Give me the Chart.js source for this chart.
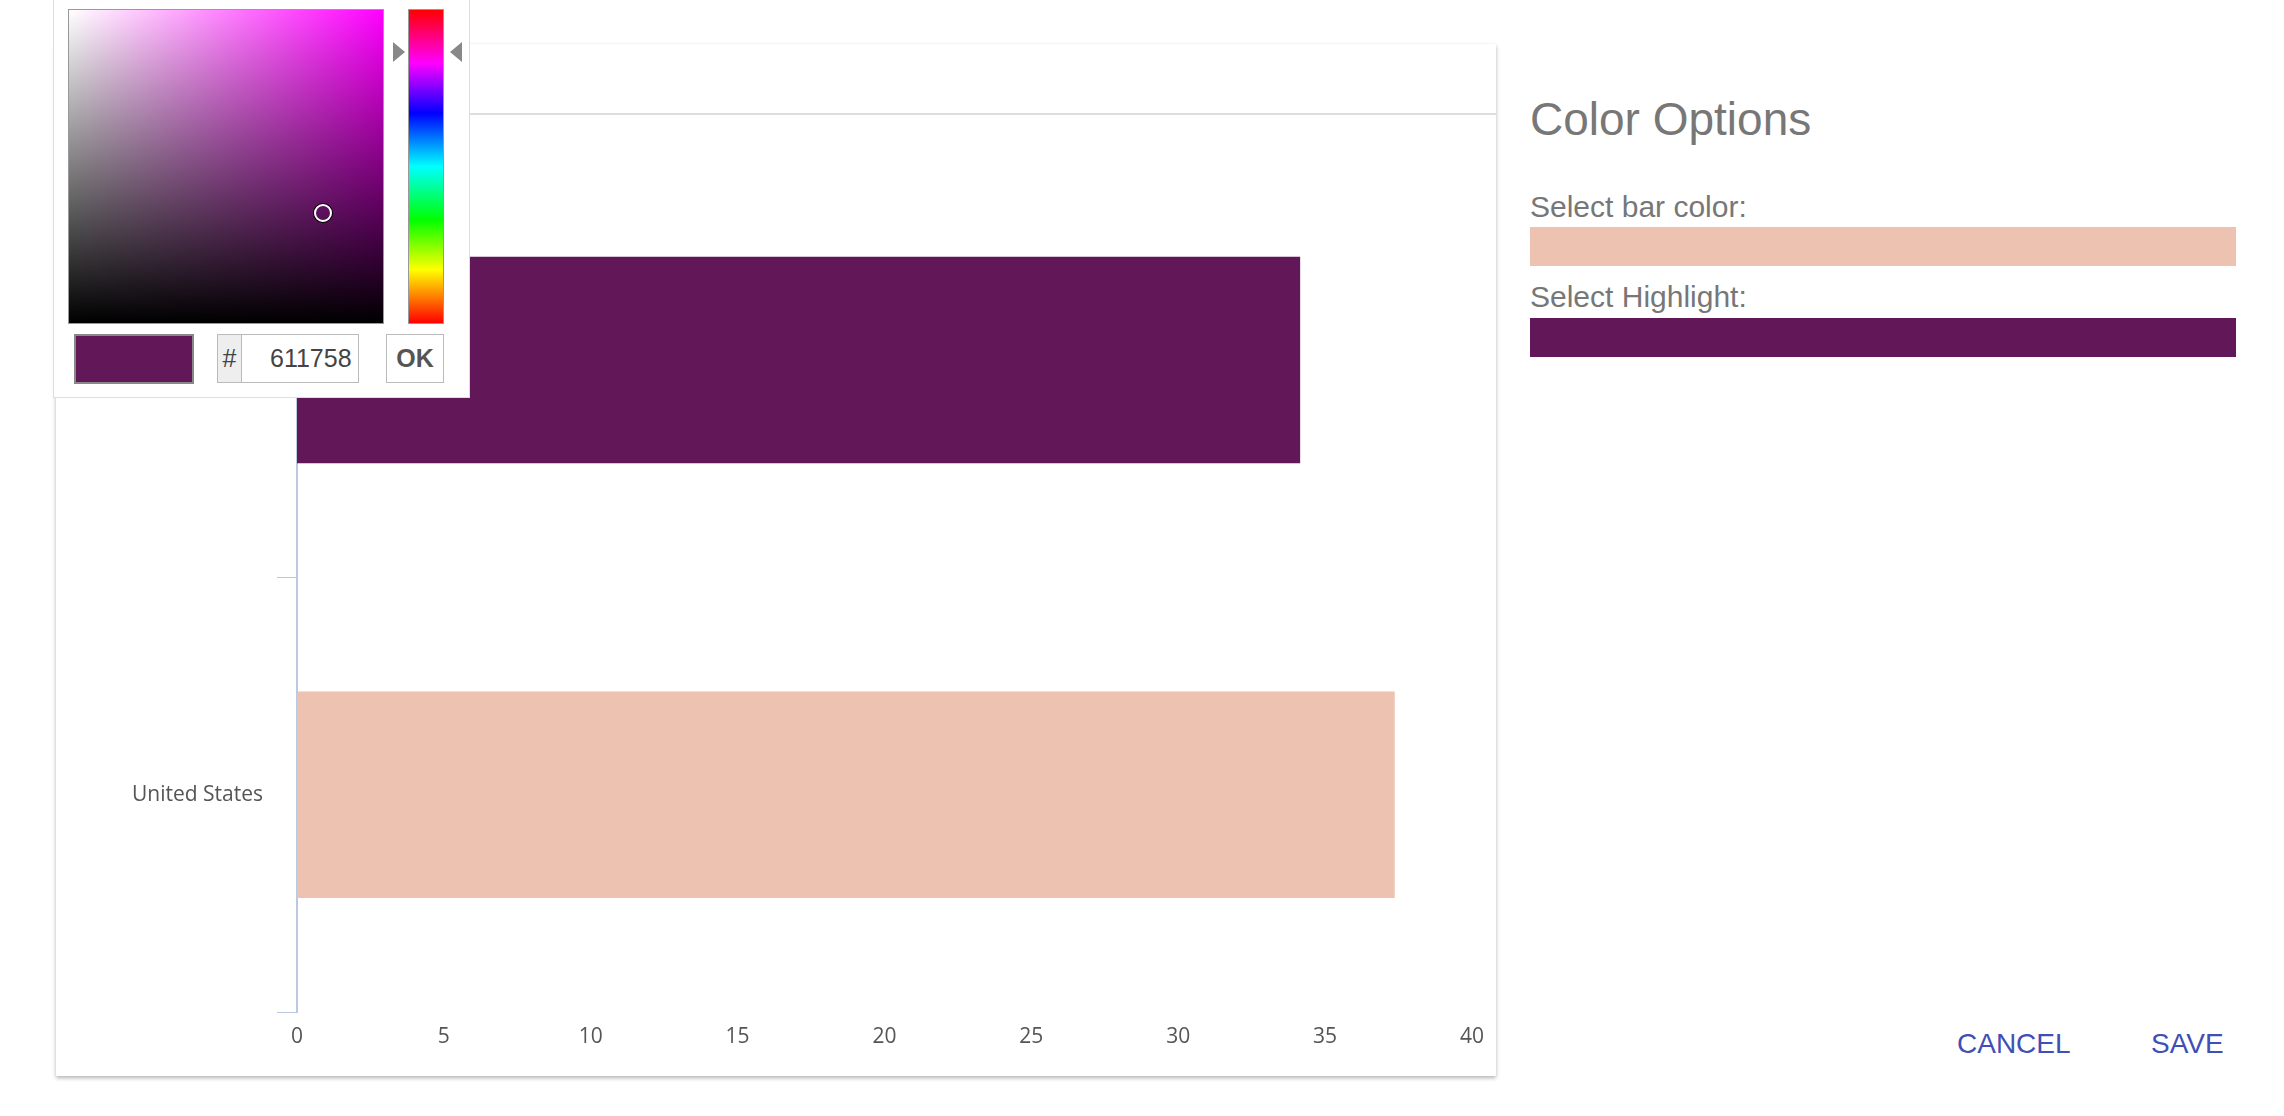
<!DOCTYPE html>
<html>
<head>
<meta charset="utf-8">
<script src="https://cdn.jsdelivr.net/npm/chart.js@4"></script>
<style>
  body { margin: 0; width: 2284px; height: 1116px; background: #fff; font-family: "Liberation Sans", Arial, sans-serif; position: relative; overflow: hidden; }
  .card { position: absolute; left: 56px; top: 44px; width: 1440px; height: 1032px; background: #fff; box-shadow: 0 2px 4px rgba(0,0,0,0.3); }
  .card .head { position: absolute; left: 0; top: 0; right: 0; height: 69px; border-bottom: 2px solid #ddd; }
  .chartbox { position: absolute; left: 56px; top: 116px; width: 1440px; height: 960px; }
  .panel { position: absolute; left: 1530px; top: 0; color: #777; }
  .panel h1 { position: absolute; left: 0; top: 92px; margin: 0; font-weight: normal; font-size: 46px; white-space: nowrap; }
  .panel .lbl { position: absolute; left: 0; font-size: 30px; white-space: nowrap; }
  .sw { position: absolute; left: 0; width: 706px; height: 39px; }
  .btn { position: absolute; top: 1028px; color: #3f4fb5; font-size: 28px; }
  .picker { position: absolute; left: 53px; top: 0; width: 415px; height: 397px; background: #fff; border: 1px solid #ddd; border-top: none; }
  .sat { position: absolute; left: 14px; top: 9px; width: 314px; height: 313px; border: 1px solid #999;
         background: linear-gradient(to top, #000, rgba(0,0,0,0)), linear-gradient(to right, #fff, #f0f); }
  .hue { position: absolute; left: 354px; top: 9px; width: 34px; height: 313px; border: 1px solid #999;
         background: linear-gradient(to bottom, #f00, #f0f 17%, #00f 33%, #0ff 50%, #0f0 67%, #ff0 83%, #f00); }
  .dot { position: absolute; left: 245px; top: 194px; width: 14px; height: 14px; border-radius: 50%; border: 2px solid #fff; box-shadow: 0 0 0 1px #000; }
</style>
</head>
<body>
<div class="card"><div class="head"></div></div>
<div class="chartbox"><canvas id="c"></canvas></div>

<div class="picker">
  <div class="sat"><div class="dot"></div></div>
  <div class="hue"></div>
  <div style="position:absolute;left:339px;top:42px;border-left:12px solid #888;border-top:10px solid transparent;border-bottom:10px solid transparent;"></div>
  <div style="position:absolute;left:396px;top:42px;border-right:12px solid #888;border-top:10px solid transparent;border-bottom:10px solid transparent;"></div>
  <div style="position:absolute;left:20px;top:334px;width:116px;height:46px;background:#611758;border:2px solid #888;"></div>
  <div style="position:absolute;left:163px;top:334px;width:140px;height:47px;border:1px solid #bbb;font-size:25px;color:#444;">
    <span style="position:absolute;left:0;top:0;width:23px;height:47px;background:#eee;border-right:1px solid #bbb;text-align:center;line-height:47px;">#</span>
    <span style="position:absolute;left:52px;top:0;line-height:47px;">611758</span>
  </div>
  <div style="position:absolute;left:332px;top:334px;width:56px;height:47px;border:1px solid #bbb;font-size:25px;font-weight:bold;color:#555;text-align:center;line-height:47px;">OK</div>
</div>

<div class="panel">
  <h1>Color Options</h1>
  <div class="lbl" style="top:190px;">Select bar color:</div>
  <div class="sw" style="top:227px;background:#edc2b0;"></div>
  <div class="lbl" style="top:280px;">Select Highlight:</div>
  <div class="sw" style="top:318px;background:#611758;"></div>
</div>
<div class="btn" style="left:1957px;">CANCEL</div>
<div class="btn" style="left:2151px;">SAVE</div>

<script>
const categories = ['Canada', 'United States'];
const values = [34.15, 37.37];
const barColors = ['#611758', '#edc2b0'];
const xTicks = [0, 5, 10, 15, 20, 25, 30, 35, 40];

new Chart(document.getElementById('c'), {
    type: 'bar',
    data: {
        labels: categories,
        datasets: [{
            data: values,
            backgroundColor: barColors,
            barPercentage: 0.95,
            categoryPercentage: 0.5
        }]
    },
    options: {
        indexAxis: 'y',
        responsive: true,
        maintainAspectRatio: false,
        animation: false,
        layout: { padding: { top: 22, right: 17, left: 0, bottom: 0 } },
        plugins: { legend: { display: false }, tooltip: { enabled: false } },
        scales: {
            x: {
                min: 0,
                max: 40,
                afterBuildTicks: s => { s.ticks = xTicks.map(v => ({ value: v })); },
                grid: { display: false, drawTicks: false },
                border: { display: false },
                ticks: { color: '#555', font: { size: 21, family: 'Open Sans' }, padding: 12 },
                afterFit: s => { s.height = 64; }
            },
            y: {
                grid: { display: true, drawOnChartArea: false, offset: true, tickLength: 20, color: '#b8c9e0' },
                border: { color: '#b8c9e0', width: 2 },
                ticks: { color: '#555', font: { size: 21, family: 'Open Sans' }, padding: 14 },
                afterFit: s => { s.width = 241; }
            }
        }
    }
});
</script>
</body>
</html>
